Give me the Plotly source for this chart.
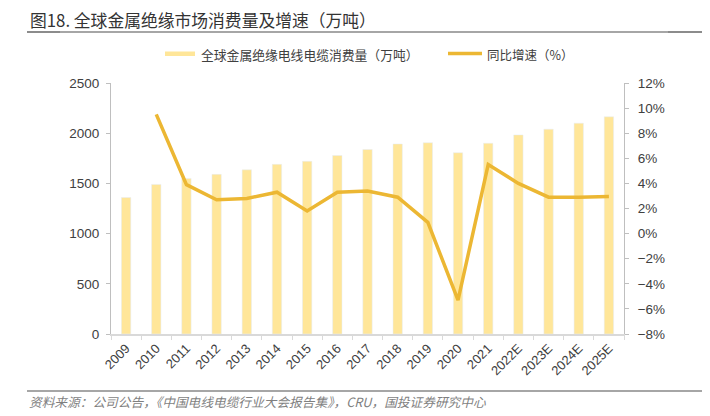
import plotly.graph_objects as go

years = ["2009", "2010", "2011", "2012", "2013", "2014", "2015", "2016", "2017",
         "2018", "2019", "2020", "2021", "2022E", "2023E", "2024E", "2025E"]
consumption = [1360, 1490, 1550, 1590, 1635, 1690, 1720, 1778, 1838,
               1893, 1905, 1805, 1900, 1983, 2040, 2100, 2163]
growth = [None, 9.5, 3.9, 2.7, 2.8, 3.3, 1.8, 3.3, 3.4,
          2.9, 0.9, -5.3, 5.5, 4.0, 2.9, 2.9, 2.95]

bar_name = "全球金属绝缘电线电缆消费量（万吨）"
line_name = "同比增速（%）"
title_text = "图18. 全球金属绝缘市场消费量及增速（万吨）"
source_text = "资料来源：公司公告，《中国电线电缆行业大会报告集》，CRU，国投证券研究中心"

OFF = 8  # page body margin
W, H = 710 - OFF, 416 - OFF
ML, MR, MT, MB = 111 - OFF, 86, 83 - OFF, 82
PW, PH = W - ML - MR, H - MT - MB

def px(x):
    return (x - OFF - ML) / PW

def py(y):
    return (H - MB - (y - OFF)) / PH

BAR_COLOR = "#FFE699"
LINE_COLOR = "#ECB733"
CJK = "Noto Sans CJK SC"
NUM = "Liberation Sans"

fig = go.Figure()
fig.add_trace(go.Bar(x=years, y=consumption, name=bar_name, marker_color=BAR_COLOR,
                     width=0.31, showlegend=False))
fig.add_trace(go.Scatter(x=years, y=growth, name=line_name, yaxis="y2", mode="lines",
                         line=dict(color=LINE_COLOR, width=3.5), showlegend=False))

fig.update_layout(
    width=W, height=H,
    margin=dict(l=ML, r=MR, t=MT, b=MB, pad=0),
    paper_bgcolor="white", plot_bgcolor="white",
    font=dict(family=NUM, color="#404040", size=13),
    xaxis=dict(type="category", showgrid=False, showline=True, linecolor="#D9D9D9",
               linewidth=1.5, ticks="outside", tickson="boundaries", ticklen=4,
               tickcolor="#D9D9D9", tickangle=-45, tickfont=dict(size=13, color="#404040")),
    yaxis=dict(range=[0, 2500], dtick=500, showgrid=False, showline=True,
               linecolor="#BFBFBF", ticks="outside", ticklen=4, tickcolor="#BFBFBF",
               zeroline=False, tickfont=dict(size=13.5, color="#404040"),
               ticklabelstandoff=4),
    yaxis2=dict(range=[-8, 12], dtick=2, ticksuffix="%", overlaying="y", side="right",
                showgrid=False, showline=True, linecolor="#BFBFBF", ticks="outside",
                ticklen=4, tickcolor="#BFBFBF", zeroline=False,
                tickfont=dict(size=13.5, color="#404040"), ticklabelstandoff=6),
    bargap=0.69,
)

shapes = [
    # title underline
    dict(type="line", xref="paper", yref="paper", x0=px(27), x1=px(703), y0=py(32), y1=py(32),
         line=dict(color="#A6A6A6", width=2)),
    dict(type="line", xref="paper", yref="paper", x0=px(27), x1=px(60), y0=py(32), y1=py(32),
         line=dict(color="#8C8C8C", width=2)),
    dict(type="line", xref="paper", yref="paper", x0=px(668), x1=px(703), y0=py(32), y1=py(32),
         line=dict(color="#8C8C8C", width=2)),
    # footer line
    dict(type="line", xref="paper", yref="paper", x0=px(27), x1=px(703), y0=py(391), y1=py(391),
         line=dict(color="#A6A6A6", width=2)),
    # legend symbols
    dict(type="rect", xref="paper", yref="paper", x0=px(165), x1=px(195), y0=py(56), y1=py(51.5),
         fillcolor=BAR_COLOR, line=dict(width=0)),
    dict(type="line", xref="paper", yref="paper", x0=px(448), x1=px(482), y0=py(53.5), y1=py(53.5),
         line=dict(color=LINE_COLOR, width=3.5)),
]

annotations = [
    dict(text=title_text, xref="paper", yref="paper", x=px(28), y=py(20), xanchor="left",
         yanchor="middle", showarrow=False, font=dict(family=CJK, size=16.8, color="#333333")),
    dict(text=bar_name, xref="paper", yref="paper", x=px(199), y=py(54), xanchor="left",
         yanchor="middle", showarrow=False, font=dict(family=CJK, size=12.8, color="#404040")),
    dict(text=line_name, xref="paper", yref="paper", x=px(485), y=py(54), xanchor="left",
         yanchor="middle", showarrow=False, font=dict(family=CJK, size=12.5, color="#404040")),
    dict(text=source_text, xref="paper", yref="paper", x=px(27), y=py(401), xanchor="left",
         yanchor="middle", showarrow=False,
         font=dict(family=CJK, size=12.7, color="#7F7F7F", style="italic")),
]

fig.update_layout(shapes=shapes, annotations=annotations)
fig.write_html("out.html")
